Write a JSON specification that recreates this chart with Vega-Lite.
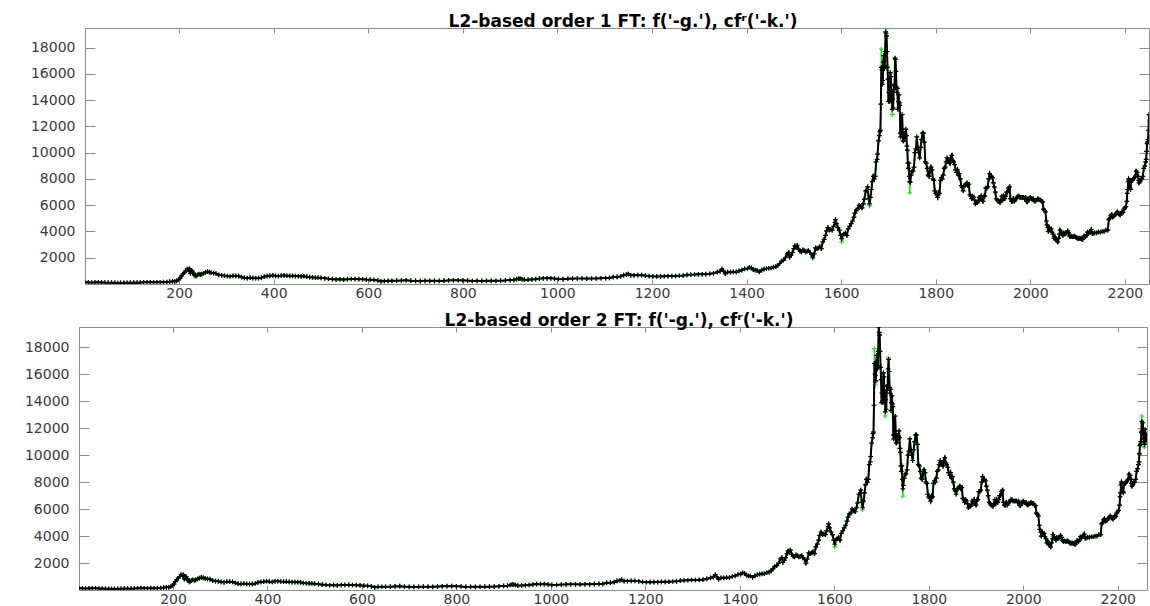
{
  "$schema": "https://vega.github.io/schema/vega-lite/v6.json",
  "background": "white",
  "padding": {"left": 7, "top": 13, "right": 0, "bottom": 0},
  "spacing": 12,
  "config": {
    "view": {"stroke": null},
    "axis": {
      "grid": false,
      "domainColor": "#8c8c8c",
      "tickColor": "#8c8c8c",
      "domainWidth": 1,
      "tickWidth": 1,
      "labelColor": "#3a3a3a",
      "labelFont": "DejaVu Sans",
      "labelFontSize": 14,
      "title": null
    },
    "title": {
      "font": "DejaVu Sans",
      "fontSize": 17,
      "fontWeight": "bold",
      "color": "#000000",
      "anchor": "middle",
      "baseline": "alphabetic",
      "frame": "group",
      "offset": -6,
      "dx": 6
    }
  },
  "datasets": {
    "prices": [
      {"x":1,"f":135,"a":135,"b":135},{"x":8,"f":118,"a":118,"b":118},{"x":15,"f":112,"a":112,"b":112},{"x":22,"f":120,"a":120,"b":120},
      {"x":29,"f":128,"a":128,"b":128},{"x":36,"f":122,"a":122,"b":122},{"x":43,"f":108,"a":108,"b":108},{"x":50,"f":104,"a":104,"b":104},
      {"x":57,"f":100,"a":100,"b":100},{"x":64,"f":88,"a":88,"b":88},{"x":70,"f":72,"a":72,"b":72},{"x":76,"f":80,"a":80,"b":80},
      {"x":83,"f":92,"a":92,"b":92},{"x":90,"f":96,"a":96,"b":96},{"x":97,"f":102,"a":102,"b":102},{"x":104,"f":106,"a":106,"b":106},
      {"x":111,"f":100,"a":100,"b":100},{"x":118,"f":112,"a":112,"b":112},{"x":125,"f":124,"a":124,"b":124},{"x":132,"f":132,"a":132,"b":132},
      {"x":139,"f":126,"a":126,"b":126},{"x":146,"f":124,"a":124,"b":124},{"x":153,"f":132,"a":132,"b":132},{"x":160,"f":128,"a":128,"b":128},
      {"x":167,"f":136,"a":136,"b":136},{"x":174,"f":150,"a":150,"b":150},{"x":180,"f":175,"a":175,"b":175},{"x":186,"f":195,"a":195,"b":195},
      {"x":191,"f":200,"a":200,"b":200},{"x":195,"f":240,"a":240,"b":240},{"x":199,"f":340,"a":340,"b":340},{"x":202,"f":440,"a":440,"b":440},
      {"x":205,"f":620,"a":620,"b":620},{"x":208,"f":760,"a":760,"b":760},{"x":211,"f":860,"a":860,"b":860},{"x":214,"f":1000,"a":1000,"b":1000},
      {"x":217,"f":1130,"a":1130,"b":1130},{"x":220,"f":1090,"a":1090,"b":1090},{"x":222,"f":1150,"a":1150,"b":1150},{"x":224,"f":830,"a":830,"b":830},
      {"x":226,"f":1000,"a":1000,"b":1000},{"x":228,"f":980,"a":980,"b":980},{"x":230,"f":820,"a":820,"b":820},{"x":232,"f":700,"a":700,"b":700},
      {"x":234,"f":560,"a":700,"b":720},{"x":236,"f":620,"a":620,"b":620},{"x":239,"f":690,"a":690,"b":690},{"x":242,"f":760,"a":760,"b":760},
      {"x":245,"f":720,"a":720,"b":720},{"x":248,"f":750,"a":750,"b":750},{"x":252,"f":820,"a":820,"b":820},{"x":256,"f":880,"a":880,"b":880},
      {"x":260,"f":940,"a":940,"b":940},{"x":264,"f":900,"a":900,"b":900},{"x":268,"f":860,"a":860,"b":860},{"x":273,"f":830,"a":830,"b":830},
      {"x":278,"f":800,"a":800,"b":800},{"x":284,"f":700,"a":700,"b":700},{"x":290,"f":660,"a":660,"b":660},{"x":296,"f":640,"a":640,"b":640},
      {"x":302,"f":600,"a":600,"b":600},{"x":308,"f":570,"a":570,"b":570},{"x":314,"f":620,"a":620,"b":620},{"x":320,"f":620,"a":620,"b":620},
      {"x":326,"f":600,"a":600,"b":600},{"x":332,"f":520,"a":520,"b":520},{"x":338,"f":470,"a":470,"b":470},{"x":344,"f":450,"a":450,"b":450},
      {"x":350,"f":480,"a":480,"b":480},{"x":356,"f":450,"a":450,"b":450},{"x":362,"f":440,"a":440,"b":440},{"x":368,"f":450,"a":450,"b":450},
      {"x":374,"f":480,"a":480,"b":480},{"x":380,"f":560,"a":560,"b":560},{"x":386,"f":600,"a":600,"b":600},{"x":392,"f":620,"a":620,"b":620},
      {"x":398,"f":650,"a":650,"b":650},{"x":404,"f":620,"a":620,"b":620},{"x":410,"f":600,"a":600,"b":600},{"x":416,"f":640,"a":640,"b":640},
      {"x":422,"f":650,"a":650,"b":650},{"x":428,"f":630,"a":630,"b":630},{"x":434,"f":620,"a":620,"b":620},{"x":440,"f":620,"a":620,"b":620},
      {"x":446,"f":600,"a":600,"b":600},{"x":452,"f":590,"a":590,"b":590},{"x":458,"f":580,"a":580,"b":580},{"x":464,"f":590,"a":590,"b":590},
      {"x":470,"f":560,"a":560,"b":560},{"x":476,"f":520,"a":520,"b":520},{"x":482,"f":500,"a":500,"b":500},{"x":488,"f":490,"a":490,"b":490},
      {"x":494,"f":480,"a":480,"b":480},{"x":500,"f":470,"a":470,"b":470},{"x":508,"f":430,"a":430,"b":430},{"x":516,"f":400,"a":400,"b":400},
      {"x":524,"f":370,"a":370,"b":370},{"x":532,"f":350,"a":350,"b":350},{"x":540,"f":360,"a":360,"b":360},{"x":548,"f":340,"a":340,"b":340},
      {"x":556,"f":370,"a":370,"b":370},{"x":564,"f":380,"a":380,"b":380},{"x":572,"f":380,"a":380,"b":380},{"x":580,"f":370,"a":370,"b":370},
      {"x":588,"f":360,"a":360,"b":360},{"x":596,"f":340,"a":340,"b":340},{"x":604,"f":330,"a":330,"b":330},{"x":612,"f":310,"a":310,"b":310},
      {"x":620,"f":270,"a":270,"b":270},{"x":627,"f":200,"a":200,"b":200},{"x":634,"f":230,"a":230,"b":230},{"x":642,"f":240,"a":240,"b":240},
      {"x":650,"f":240,"a":240,"b":240},{"x":660,"f":250,"a":250,"b":250},{"x":670,"f":265,"a":265,"b":265},{"x":680,"f":285,"a":285,"b":285},
      {"x":690,"f":250,"a":250,"b":250},{"x":700,"f":235,"a":235,"b":235},{"x":710,"f":225,"a":225,"b":225},{"x":720,"f":240,"a":240,"b":240},
      {"x":730,"f":245,"a":245,"b":245},{"x":740,"f":240,"a":240,"b":240},{"x":750,"f":235,"a":235,"b":235},{"x":760,"f":255,"a":255,"b":255},
      {"x":770,"f":270,"a":270,"b":270},{"x":780,"f":285,"a":285,"b":285},{"x":790,"f":285,"a":285,"b":285},{"x":800,"f":275,"a":275,"b":275},
      {"x":810,"f":260,"a":260,"b":260},{"x":820,"f":230,"a":230,"b":230},{"x":830,"f":240,"a":240,"b":240},{"x":840,"f":235,"a":235,"b":235},
      {"x":850,"f":240,"a":240,"b":240},{"x":860,"f":245,"a":245,"b":245},{"x":870,"f":245,"a":245,"b":245},{"x":880,"f":255,"a":255,"b":255},
      {"x":890,"f":270,"a":270,"b":270},{"x":900,"f":300,"a":300,"b":300},{"x":908,"f":320,"a":320,"b":320},{"x":914,"f":370,"a":370,"b":370},
      {"x":918,"f":400,"a":400,"b":400},{"x":921,"f":410,"a":410,"b":410},{"x":925,"f":370,"a":370,"b":370},{"x":930,"f":330,"a":330,"b":330},
      {"x":938,"f":330,"a":330,"b":330},{"x":946,"f":350,"a":350,"b":350},{"x":954,"f":370,"a":370,"b":370},{"x":962,"f":410,"a":410,"b":410},
      {"x":970,"f":430,"a":430,"b":430},{"x":978,"f":430,"a":430,"b":430},{"x":986,"f":430,"a":430,"b":430},{"x":994,"f":410,"a":410,"b":410},
      {"x":1002,"f":380,"a":380,"b":380},{"x":1012,"f":370,"a":370,"b":370},{"x":1022,"f":400,"a":400,"b":400},{"x":1032,"f":415,"a":415,"b":415},
      {"x":1042,"f":420,"a":420,"b":420},{"x":1052,"f":420,"a":420,"b":420},{"x":1062,"f":415,"a":415,"b":415},{"x":1072,"f":420,"a":420,"b":420},
      {"x":1082,"f":420,"a":420,"b":420},{"x":1092,"f":440,"a":440,"b":440},{"x":1102,"f":450,"a":450,"b":450},{"x":1110,"f":460,"a":460,"b":460},
      {"x":1118,"f":530,"a":530,"b":530},{"x":1126,"f":540,"a":540,"b":540},{"x":1134,"f":580,"a":580,"b":580},{"x":1140,"f":670,"a":670,"b":670},
      {"x":1146,"f":720,"a":720,"b":720},{"x":1150,"f":750,"a":750,"b":750},{"x":1155,"f":660,"a":660,"b":660},{"x":1162,"f":660,"a":660,"b":660},
      {"x":1170,"f":680,"a":680,"b":680},{"x":1178,"f":670,"a":670,"b":670},{"x":1186,"f":640,"a":640,"b":640},{"x":1194,"f":600,"a":600,"b":600},
      {"x":1202,"f":575,"a":575,"b":575},{"x":1210,"f":580,"a":580,"b":580},{"x":1218,"f":580,"a":580,"b":580},{"x":1226,"f":590,"a":590,"b":590},
      {"x":1234,"f":605,"a":605,"b":605},{"x":1242,"f":605,"a":605,"b":605},{"x":1250,"f":610,"a":610,"b":610},{"x":1258,"f":630,"a":630,"b":630},
      {"x":1266,"f":640,"a":640,"b":640},{"x":1274,"f":700,"a":700,"b":700},{"x":1282,"f":705,"a":705,"b":705},{"x":1290,"f":725,"a":725,"b":725},
      {"x":1298,"f":740,"a":740,"b":740},{"x":1306,"f":740,"a":740,"b":740},{"x":1314,"f":750,"a":750,"b":750},{"x":1322,"f":775,"a":775,"b":775},
      {"x":1330,"f":820,"a":820,"b":820},{"x":1338,"f":900,"a":900,"b":900},{"x":1344,"f":960,"a":960,"b":960},{"x":1348,"f":1130,"a":1130,"b":1130},
      {"x":1351,"f":1000,"a":1000,"b":1000},{"x":1355,"f":780,"a":780,"b":780},{"x":1360,"f":900,"a":900,"b":900},{"x":1366,"f":900,"a":900,"b":900},
      {"x":1372,"f":920,"a":920,"b":920},{"x":1378,"f":920,"a":920,"b":920},{"x":1384,"f":1000,"a":1000,"b":1000},{"x":1390,"f":1050,"a":1050,"b":1050},
      {"x":1396,"f":1150,"a":1150,"b":1150},{"x":1402,"f":1180,"a":1180,"b":1180},{"x":1406,"f":1270,"a":1270,"b":1270},{"x":1410,"f":1230,"a":1230,"b":1230},
      {"x":1414,"f":1100,"a":1100,"b":1100},{"x":1418,"f":1050,"a":1050,"b":1050},{"x":1422,"f":1040,"a":1040,"b":1040},{"x":1427,"f":930,"a":930,"b":930},
      {"x":1432,"f":1050,"a":1050,"b":1050},{"x":1437,"f":1130,"a":1130,"b":1130},{"x":1442,"f":1180,"a":1180,"b":1180},{"x":1447,"f":1200,"a":1200,"b":1200},
      {"x":1452,"f":1220,"a":1220,"b":1220},{"x":1457,"f":1280,"a":1280,"b":1280},{"x":1462,"f":1330,"a":1330,"b":1330},{"x":1466,"f":1420,"a":1420,"b":1420},
      {"x":1470,"f":1560,"a":1560,"b":1560},{"x":1474,"f":1750,"a":1750,"b":1750},{"x":1478,"f":1800,"a":1800,"b":1800},{"x":1482,"f":2000,"a":2000,"b":2000},
      {"x":1486,"f":2300,"a":2300,"b":2300},{"x":1489,"f":2400,"a":2400,"b":2400},{"x":1491,"f":2050,"a":2050,"b":2050},{"x":1494,"f":2200,"a":2200,"b":2200},
      {"x":1497,"f":2400,"a":2400,"b":2400},{"x":1500,"f":2700,"a":2700,"b":2700},{"x":1502,"f":2900,"a":2900,"b":2900},{"x":1505,"f":2800,"a":2800,"b":2800},
      {"x":1507,"f":2950,"a":2950,"b":2950},{"x":1510,"f":2650,"a":2650,"b":2650},{"x":1513,"f":2500,"a":2500,"b":2500},{"x":1516,"f":2450,"a":2450,"b":2450},
      {"x":1519,"f":2600,"a":2600,"b":2600},{"x":1522,"f":2550,"a":2550,"b":2550},{"x":1525,"f":2450,"a":2450,"b":2450},{"x":1528,"f":2500,"a":2500,"b":2500},
      {"x":1531,"f":2550,"a":2550,"b":2550},{"x":1534,"f":2400,"a":2400,"b":2400},{"x":1537,"f":2250,"a":2250,"b":2250},{"x":1540,"f":1950,"a":2050,"b":2000},
      {"x":1543,"f":2300,"a":2300,"b":2300},{"x":1546,"f":2750,"a":2750,"b":2750},{"x":1549,"f":2700,"a":2700,"b":2700},{"x":1552,"f":2750,"a":2750,"b":2750},
      {"x":1555,"f":2850,"a":2850,"b":2850},{"x":1558,"f":2700,"a":2700,"b":2700},{"x":1561,"f":3200,"a":3200,"b":3200},{"x":1564,"f":3400,"a":3400,"b":3400},
      {"x":1567,"f":3700,"a":3700,"b":3700},{"x":1569,"f":4050,"a":4050,"b":4050},{"x":1572,"f":4300,"a":4300,"b":4300},{"x":1575,"f":4100,"a":4100,"b":4100},
      {"x":1578,"f":4150,"a":4150,"b":4150},{"x":1581,"f":4100,"a":4100,"b":4100},{"x":1584,"f":4400,"a":4400,"b":4400},{"x":1587,"f":4700,"a":4700,"b":4700},
      {"x":1588,"f":4900,"a":4900,"b":4900},{"x":1590,"f":4600,"a":4600,"b":4600},{"x":1593,"f":4300,"a":4300,"b":4300},{"x":1596,"f":4100,"a":4100,"b":4100},
      {"x":1599,"f":3700,"a":3700,"b":3700},{"x":1601,"f":3200,"a":3450,"b":3400},{"x":1603,"f":3700,"a":3700,"b":3700},{"x":1606,"f":3800,"a":3800,"b":3800},
      {"x":1609,"f":3900,"a":3900,"b":3900},{"x":1612,"f":3700,"a":3700,"b":3700},{"x":1615,"f":4200,"a":4200,"b":4200},{"x":1618,"f":4400,"a":4400,"b":4400},
      {"x":1621,"f":4600,"a":4600,"b":4600},{"x":1624,"f":4800,"a":4800,"b":4800},{"x":1627,"f":5100,"a":5100,"b":5100},{"x":1629,"f":5400,"a":5400,"b":5400},
      {"x":1632,"f":5650,"a":5650,"b":5650},{"x":1635,"f":5700,"a":5700,"b":5700},{"x":1638,"f":6000,"a":6000,"b":6000},{"x":1641,"f":5900,"a":5900,"b":5900},
      {"x":1644,"f":5800,"a":5800,"b":5800},{"x":1647,"f":6100,"a":6100,"b":6100},{"x":1649,"f":6450,"a":6450,"b":6450},{"x":1652,"f":7100,"a":7100,"b":7100},
      {"x":1655,"f":7200,"a":7200,"b":7200},{"x":1656,"f":7400,"a":7400,"b":7400},{"x":1658,"f":6500,"a":6500,"b":6500},{"x":1660,"f":5950,"a":6100,"b":6100},
      {"x":1662,"f":6600,"a":6600,"b":6600},{"x":1664,"f":7200,"a":7200,"b":7200},{"x":1666,"f":7800,"a":7800,"b":7800},{"x":1668,"f":8200,"a":8200,"b":8200},
      {"x":1670,"f":8000,"a":8000,"b":8000},{"x":1672,"f":8200,"a":8200,"b":8200},{"x":1674,"f":9300,"a":9300,"b":9300},{"x":1676,"f":9500,"a":9500,"b":9500},
      {"x":1677,"f":9900,"a":9900,"b":9900},{"x":1679,"f":10900,"a":10900,"b":10900},{"x":1681,"f":11300,"a":11300,"b":11300},{"x":1682,"f":11600,"a":11600,"b":11600},
      {"x":1683,"f":11700,"a":11700,"b":11700},{"x":1684,"f":13700,"a":13700,"b":13700},{"x":1685,"f":17900,"a":16500,"b":16800},{"x":1686,"f":16600,"a":16300,"b":16000},
      {"x":1687,"f":15200,"a":15200,"b":15900},{"x":1688,"f":15500,"a":15500,"b":15500},{"x":1689,"f":16900,"a":16900,"b":16900},{"x":1690,"f":17400,"a":17400,"b":17400},
      {"x":1691,"f":16400,"a":16400,"b":16400},{"x":1692,"f":16600,"a":16600,"b":16600},{"x":1693,"f":17700,"a":17700,"b":17700},{"x":1694,"f":19500,"a":19200,"b":19500},
      {"x":1695,"f":19100,"a":19100,"b":19100},{"x":1696,"f":18900,"a":18900,"b":18900},{"x":1697,"f":17700,"a":17700,"b":17700},{"x":1698,"f":16500,"a":16500,"b":16500},
      {"x":1699,"f":15600,"a":15600,"b":15600},{"x":1700,"f":13900,"a":13900,"b":13900},{"x":1701,"f":14600,"a":14600,"b":14600},{"x":1702,"f":14000,"a":14000,"b":14000},
      {"x":1703,"f":13900,"a":13900,"b":13900},{"x":1704,"f":16100,"a":16100,"b":16100},{"x":1705,"f":15800,"a":15800,"b":15800},{"x":1706,"f":14600,"a":14600,"b":14600},
      {"x":1707,"f":14700,"a":14700,"b":14700},{"x":1708,"f":12900,"a":13300,"b":13200},{"x":1709,"f":14100,"a":14100,"b":14100},{"x":1710,"f":13400,"a":13400,"b":13400},
      {"x":1711,"f":14800,"a":14800,"b":14800},{"x":1712,"f":15100,"a":15100,"b":15100},{"x":1713,"f":15200,"a":15200,"b":15200},{"x":1714,"f":17200,"a":17200,"b":16400},
      {"x":1715,"f":17100,"a":17100,"b":17100},{"x":1716,"f":16200,"a":16200,"b":16200},{"x":1717,"f":15000,"a":15000,"b":15000},{"x":1718,"f":14600,"a":14600,"b":14600},
      {"x":1719,"f":14900,"a":14900,"b":14900},{"x":1720,"f":13300,"a":13300,"b":13300},{"x":1721,"f":13900,"a":13900,"b":13900},{"x":1722,"f":14400,"a":14400,"b":14400},
      {"x":1723,"f":13800,"a":13800,"b":13800},{"x":1724,"f":13600,"a":13600,"b":13600},{"x":1725,"f":11500,"a":11500,"b":11500},{"x":1726,"f":11200,"a":11200,"b":11200},
      {"x":1727,"f":11500,"a":11500,"b":11500},{"x":1728,"f":11800,"a":11800,"b":11800},{"x":1729,"f":12900,"a":12900,"b":12900},{"x":1730,"f":11600,"a":11600,"b":11600},
      {"x":1731,"f":10900,"a":10900,"b":10900},{"x":1732,"f":10900,"a":10900,"b":10900},{"x":1733,"f":11300,"a":11300,"b":11300},{"x":1734,"f":11100,"a":11100,"b":11100},
      {"x":1735,"f":11400,"a":11400,"b":11400},{"x":1736,"f":11300,"a":11300,"b":11300},{"x":1737,"f":11800,"a":11800,"b":11800},{"x":1738,"f":11300,"a":11300,"b":11300},
      {"x":1739,"f":10500,"a":10500,"b":10500},{"x":1740,"f":10200,"a":10200,"b":10200},{"x":1741,"f":9200,"a":9200,"b":9200},{"x":1742,"f":8800,"a":8800,"b":8800},
      {"x":1743,"f":9200,"a":9200,"b":9200},{"x":1744,"f":8200,"a":8200,"b":8200},{"x":1745,"f":6950,"a":7800,"b":7500},{"x":1746,"f":7750,"a":7750,"b":7750},
      {"x":1748,"f":8300,"a":8300,"b":8300},{"x":1750,"f":8600,"a":8600,"b":8600},{"x":1752,"f":8600,"a":8600,"b":8600},{"x":1754,"f":8900,"a":8900,"b":8900},
      {"x":1756,"f":10000,"a":10000,"b":10000},{"x":1758,"f":10300,"a":10300,"b":10300},{"x":1760,"f":11200,"a":11200,"b":11200},{"x":1762,"f":10400,"a":10400,"b":10400},
      {"x":1764,"f":10000,"a":10000,"b":10000},{"x":1766,"f":9600,"a":9600,"b":9600},{"x":1768,"f":10400,"a":10400,"b":10400},{"x":1770,"f":11000,"a":11000,"b":11000},
      {"x":1772,"f":11500,"a":11500,"b":11500},{"x":1774,"f":11500,"a":11500,"b":11500},{"x":1776,"f":10800,"a":10800,"b":10800},{"x":1778,"f":9300,"a":9300,"b":9300},
      {"x":1780,"f":9200,"a":9200,"b":9200},{"x":1782,"f":8800,"a":8800,"b":8800},{"x":1784,"f":8300,"a":8300,"b":8300},{"x":1786,"f":8200,"a":8200,"b":8200},
      {"x":1788,"f":8600,"a":8600,"b":8600},{"x":1790,"f":8900,"a":8900,"b":8900},{"x":1792,"f":8700,"a":8700,"b":8700},{"x":1794,"f":8000,"a":8000,"b":8000},
      {"x":1796,"f":7900,"a":7900,"b":7900},{"x":1798,"f":7100,"a":7100,"b":7100},{"x":1800,"f":6900,"a":6900,"b":6900},{"x":1802,"f":6800,"a":6800,"b":6800},
      {"x":1804,"f":6600,"a":6600,"b":6600},{"x":1806,"f":7000,"a":7000,"b":7000},{"x":1808,"f":6900,"a":6900,"b":6900},{"x":1810,"f":7900,"a":7900,"b":7900},
      {"x":1812,"f":8100,"a":8100,"b":8100},{"x":1814,"f":8000,"a":8000,"b":8000},{"x":1816,"f":8300,"a":8300,"b":8300},{"x":1818,"f":8800,"a":8800,"b":8800},
      {"x":1820,"f":8900,"a":8900,"b":8900},{"x":1822,"f":9300,"a":9300,"b":9300},{"x":1824,"f":9600,"a":9600,"b":9600},{"x":1826,"f":9300,"a":9300,"b":9300},
      {"x":1828,"f":9400,"a":9400,"b":9400},{"x":1830,"f":9200,"a":9200,"b":9200},{"x":1832,"f":9600,"a":9600,"b":9600},{"x":1834,"f":9800,"a":9800,"b":9800},
      {"x":1836,"f":9400,"a":9400,"b":9400},{"x":1838,"f":9300,"a":9300,"b":9300},{"x":1840,"f":9100,"a":9100,"b":9100},{"x":1842,"f":8700,"a":8700,"b":8700},
      {"x":1844,"f":8500,"a":8500,"b":8500},{"x":1846,"f":8700,"a":8700,"b":8700},{"x":1848,"f":8300,"a":8300,"b":8300},{"x":1850,"f":8400,"a":8400,"b":8400},
      {"x":1852,"f":8000,"a":8000,"b":8000},{"x":1854,"f":7500,"a":7500,"b":7500},{"x":1856,"f":7350,"a":7350,"b":7350},{"x":1858,"f":7100,"a":7100,"b":7100},
      {"x":1860,"f":7500,"a":7500,"b":7500},{"x":1862,"f":7500,"a":7500,"b":7500},{"x":1864,"f":7600,"a":7600,"b":7600},{"x":1866,"f":7700,"a":7700,"b":7700},
      {"x":1868,"f":7500,"a":7500,"b":7500},{"x":1870,"f":7600,"a":7600,"b":7600},{"x":1872,"f":6800,"a":6800,"b":6800},{"x":1874,"f":6700,"a":6700,"b":6700},
      {"x":1876,"f":6500,"a":6500,"b":6500},{"x":1878,"f":6700,"a":6700,"b":6700},{"x":1880,"f":6600,"a":6600,"b":6600},{"x":1882,"f":6400,"a":6400,"b":6400},
      {"x":1884,"f":6100,"a":6100,"b":6100},{"x":1886,"f":6200,"a":6200,"b":6200},{"x":1888,"f":6200,"a":6200,"b":6200},{"x":1890,"f":6300,"a":6300,"b":6300},
      {"x":1892,"f":6600,"a":6600,"b":6600},{"x":1894,"f":6500,"a":6500,"b":6500},{"x":1896,"f":6700,"a":6700,"b":6700},{"x":1898,"f":6400,"a":6400,"b":6400},
      {"x":1900,"f":6300,"a":6300,"b":6300},{"x":1902,"f":6700,"a":6700,"b":6700},{"x":1904,"f":6700,"a":6700,"b":6700},{"x":1906,"f":7300,"a":7300,"b":7300},
      {"x":1908,"f":7300,"a":7300,"b":7300},{"x":1910,"f":7400,"a":7400,"b":7400},{"x":1912,"f":8000,"a":8000,"b":8000},{"x":1914,"f":8400,"a":8400,"b":8400},
      {"x":1916,"f":8200,"a":8200,"b":8200},{"x":1918,"f":8200,"a":8200,"b":8200},{"x":1920,"f":8100,"a":8100,"b":8100},{"x":1922,"f":7700,"a":7700,"b":7700},
      {"x":1924,"f":7400,"a":7400,"b":7400},{"x":1926,"f":7000,"a":7000,"b":7000},{"x":1928,"f":6500,"a":6500,"b":6500},{"x":1930,"f":6400,"a":6400,"b":6400},
      {"x":1932,"f":6300,"a":6300,"b":6300},{"x":1934,"f":6300,"a":6300,"b":6300},{"x":1936,"f":6200,"a":6200,"b":6200},{"x":1938,"f":6400,"a":6400,"b":6400},
      {"x":1940,"f":6700,"a":6700,"b":6700},{"x":1942,"f":6400,"a":6400,"b":6400},{"x":1944,"f":6700,"a":6700,"b":6700},{"x":1946,"f":6500,"a":6500,"b":6500},
      {"x":1948,"f":6700,"a":6700,"b":6700},{"x":1950,"f":7000,"a":7000,"b":7000},{"x":1952,"f":7000,"a":7000,"b":7000},{"x":1954,"f":7300,"a":7300,"b":7300},
      {"x":1956,"f":7400,"a":7400,"b":7400},{"x":1958,"f":6500,"a":6500,"b":6500},{"x":1960,"f":6300,"a":6300,"b":6300},{"x":1962,"f":6300,"a":6300,"b":6300},
      {"x":1964,"f":6500,"a":6500,"b":6500},{"x":1966,"f":6300,"a":6300,"b":6300},{"x":1968,"f":6400,"a":6400,"b":6400},{"x":1970,"f":6500,"a":6500,"b":6500},
      {"x":1972,"f":6600,"a":6600,"b":6600},{"x":1974,"f":6700,"a":6700,"b":6700},{"x":1976,"f":6700,"a":6700,"b":6700},{"x":1978,"f":6600,"a":6600,"b":6600},
      {"x":1980,"f":6600,"a":6600,"b":6600},{"x":1982,"f":6600,"a":6600,"b":6600},{"x":1984,"f":6600,"a":6600,"b":6600},{"x":1986,"f":6600,"a":6600,"b":6600},
      {"x":1988,"f":6500,"a":6500,"b":6500},{"x":1990,"f":6600,"a":6600,"b":6600},{"x":1992,"f":6300,"a":6300,"b":6300},{"x":1994,"f":6250,"a":6250,"b":6250},
      {"x":1996,"f":6400,"a":6400,"b":6400},{"x":1998,"f":6500,"a":6500,"b":6500},{"x":2000,"f":6600,"a":6600,"b":6600},{"x":2002,"f":6500,"a":6500,"b":6500},
      {"x":2004,"f":6450,"a":6450,"b":6450},{"x":2006,"f":6500,"a":6500,"b":6500},{"x":2008,"f":6350,"a":6350,"b":6350},{"x":2010,"f":6300,"a":6300,"b":6300},
      {"x":2012,"f":6400,"a":6400,"b":6400},{"x":2014,"f":6400,"a":6400,"b":6400},{"x":2016,"f":6500,"a":6500,"b":6500},{"x":2018,"f":6450,"a":6450,"b":6450},
      {"x":2020,"f":6400,"a":6400,"b":6400},{"x":2022,"f":6400,"a":6400,"b":6400},{"x":2024,"f":6300,"a":6300,"b":6300},{"x":2026,"f":6250,"a":6250,"b":6250},
      {"x":2028,"f":5700,"a":5700,"b":5700},{"x":2030,"f":5600,"a":5600,"b":5600},{"x":2032,"f":5500,"a":5500,"b":5500},{"x":2034,"f":4800,"a":4800,"b":4800},
      {"x":2035,"f":4500,"a":4500,"b":4500},{"x":2037,"f":4300,"a":4300,"b":4300},{"x":2038,"f":4000,"a":4000,"b":4000},{"x":2040,"f":4300,"a":4300,"b":4300},
      {"x":2042,"f":4100,"a":4100,"b":4100},{"x":2044,"f":4200,"a":4200,"b":4200},{"x":2046,"f":3950,"a":3950,"b":3950},{"x":2048,"f":3800,"a":3800,"b":3800},
      {"x":2050,"f":3500,"a":3500,"b":3500},{"x":2052,"f":3600,"a":3600,"b":3600},{"x":2054,"f":3400,"a":3400,"b":3400},{"x":2056,"f":3300,"a":3300,"b":3300},
      {"x":2058,"f":3200,"a":3200,"b":3200},{"x":2060,"f":3500,"a":3500,"b":3500},{"x":2062,"f":3800,"a":3800,"b":3800},{"x":2063,"f":4100,"a":4100,"b":4100},
      {"x":2065,"f":3950,"a":3950,"b":3950},{"x":2067,"f":3800,"a":3800,"b":3800},{"x":2069,"f":3700,"a":3700,"b":3700},{"x":2071,"f":3900,"a":3900,"b":3900},
      {"x":2073,"f":3800,"a":3800,"b":3800},{"x":2075,"f":3850,"a":3850,"b":3850},{"x":2077,"f":3900,"a":3900,"b":3900},{"x":2079,"f":4050,"a":4050,"b":4050},
      {"x":2081,"f":3900,"a":3900,"b":3900},{"x":2083,"f":3650,"a":3650,"b":3650},{"x":2085,"f":3600,"a":3600,"b":3600},{"x":2087,"f":3650,"a":3650,"b":3650},
      {"x":2089,"f":3600,"a":3600,"b":3600},{"x":2091,"f":3600,"a":3600,"b":3600},{"x":2093,"f":3650,"a":3650,"b":3650},{"x":2095,"f":3600,"a":3600,"b":3600},
      {"x":2097,"f":3550,"a":3550,"b":3550},{"x":2099,"f":3500,"a":3500,"b":3500},{"x":2101,"f":3450,"a":3450,"b":3450},{"x":2103,"f":3500,"a":3500,"b":3500},
      {"x":2105,"f":3450,"a":3450,"b":3450},{"x":2107,"f":3450,"a":3450,"b":3450},{"x":2109,"f":3400,"a":3400,"b":3400},{"x":2111,"f":3400,"a":3400,"b":3400},
      {"x":2113,"f":3650,"a":3650,"b":3650},{"x":2115,"f":3650,"a":3650,"b":3650},{"x":2117,"f":3600,"a":3600,"b":3600},{"x":2119,"f":3700,"a":3700,"b":3700},
      {"x":2121,"f":3950,"a":3950,"b":3950},{"x":2123,"f":3900,"a":3900,"b":3900},{"x":2125,"f":3950,"a":3950,"b":3950},{"x":2127,"f":3950,"a":3950,"b":3950},
      {"x":2129,"f":4150,"a":4150,"b":4150},{"x":2131,"f":3850,"a":3850,"b":3850},{"x":2133,"f":3850,"a":3850,"b":3850},{"x":2136,"f":3900,"a":3900,"b":3900},
      {"x":2140,"f":3900,"a":3900,"b":3900},{"x":2144,"f":3950,"a":3950,"b":3950},{"x":2148,"f":3950,"a":3950,"b":3950},{"x":2152,"f":4000,"a":4000,"b":4000},
      {"x":2156,"f":4000,"a":4000,"b":4000},{"x":2160,"f":4100,"a":4100,"b":4100},{"x":2164,"f":4100,"a":4100,"b":4100},{"x":2166,"f":4900,"a":4900,"b":4900},
      {"x":2168,"f":5000,"a":5000,"b":5000},{"x":2170,"f":5200,"a":5200,"b":5200},{"x":2172,"f":5300,"a":5300,"b":5300},{"x":2174,"f":5100,"a":5100,"b":5100},
      {"x":2176,"f":5150,"a":5150,"b":5150},{"x":2178,"f":5200,"a":5200,"b":5200},{"x":2180,"f":5300,"a":5300,"b":5300},{"x":2182,"f":5400,"a":5400,"b":5400},
      {"x":2184,"f":5500,"a":5500,"b":5500},{"x":2186,"f":5400,"a":5400,"b":5400},{"x":2188,"f":5300,"a":5300,"b":5300},{"x":2190,"f":5250,"a":5250,"b":5250},
      {"x":2192,"f":5400,"a":5400,"b":5400},{"x":2194,"f":5500,"a":5500,"b":5500},{"x":2196,"f":5450,"a":5450,"b":5450},{"x":2198,"f":5700,"a":5700,"b":5700},
      {"x":2200,"f":5800,"a":5800,"b":5800},{"x":2202,"f":5900,"a":5900,"b":5900},{"x":2204,"f":6300,"a":6300,"b":6300},{"x":2205,"f":6900,"a":6900,"b":6900},
      {"x":2206,"f":7200,"a":7200,"b":7200},{"x":2207,"f":7800,"a":7800,"b":7800},{"x":2208,"f":8000,"a":8000,"b":8000},{"x":2209,"f":7900,"a":7900,"b":7900},
      {"x":2210,"f":7900,"a":7900,"b":7900},{"x":2211,"f":7300,"a":7300,"b":7300},{"x":2212,"f":7200,"a":7200,"b":7200},{"x":2213,"f":7800,"a":7800,"b":7800},
      {"x":2214,"f":7900,"a":7900,"b":7900},{"x":2216,"f":7900,"a":7900,"b":7900},{"x":2218,"f":8000,"a":8000,"b":8000},{"x":2220,"f":8100,"a":8100,"b":8100},
      {"x":2222,"f":8200,"a":8200,"b":8200},{"x":2224,"f":8600,"a":8600,"b":8600},{"x":2226,"f":8500,"a":8500,"b":8500},{"x":2228,"f":8200,"a":8200,"b":8200},
      {"x":2229,"f":7900,"a":7900,"b":7900},{"x":2230,"f":7700,"a":7700,"b":7700},{"x":2232,"f":7800,"a":7800,"b":7800},{"x":2234,"f":8000,"a":8000,"b":8000},
      {"x":2236,"f":8000,"a":8000,"b":8000},{"x":2238,"f":8200,"a":8200,"b":8200},{"x":2240,"f":8800,"a":8800,"b":8800},{"x":2242,"f":9000,"a":9000,"b":9000},
      {"x":2244,"f":9300,"a":9300,"b":9300},{"x":2245,"f":9500,"a":9500,"b":9500},{"x":2246,"f":10100,"a":10100,"b":10100},{"x":2247,"f":10700,"a":10700,"b":10700},
      {"x":2248,"f":10800,"a":10800,"b":10800},{"x":2249,"f":11000,"a":11000,"b":11000},{"x":2250,"f":11700,"a":11700,"b":11700},{"x":2251,"f":12900,"a":12900,"b":12500},
      {"x":2252,"f":11100,"a":11100,"b":11600},{"x":2253,"f":12400,"a":12400,"b":12400},{"x":2254,"f":11800,"a":11800,"b":11800},{"x":2255,"f":10800,"a":10800,"b":11200},
      {"x":2256,"f":10600,"a":10600,"b":11000},{"x":2257,"f":10800,"a":10800,"b":10800},{"x":2258,"f":11900,"a":11900,"b":11900},{"x":2259,"f":11000,"a":11000,"b":11000},
      {"x":2260,"f":11200,"a":11200,"b":11200},{"x":2261,"f":11500,"a":11500,"b":11500},{"x":2262,"f":11400,"a":11400,"b":11400}
    ],
    "none": []
  },
  "vconcat": [
    {
      "spacing": 0,
      "hconcat": [
        {
          "width": 7,
          "height": 1,
          "data": {"name": "none"},
          "mark": {"type": "point", "opacity": 0},
          "encoding": {}
        },
        {
          "width": 1064,
          "height": 256,
          "data": {"name": "prices"},
          "title": {"text": "L2-based order 1 FT: f('-g.'), cfʳ('-k.')"},
          "layer": [
            {
              "mark": {"type": "line", "color": "#22dd22", "strokeWidth": 1.5, "clip": true},
              "encoding": {
                "x": {"field": "x", "type": "quantitative", "scale": {"domain": [1, 2251], "nice": false, "zero": false},
                      "axis": {"orient": "bottom", "values": [200,400,600,800,1000,1200,1400,1600,1800,2000,2200], "tickSize": -5, "labelPadding": 7, "format": "d"}},
                "y": {"field": "f", "type": "quantitative", "scale": {"domain": [0, 19500], "nice": false},
                      "axis": {"orient": "left", "values": [2000,4000,6000,8000,10000,12000,14000,16000,18000], "tickSize": -10, "labelPadding": 20, "format": "d", "minExtent": 71, "maxExtent": 71}}
              }
            },
            {
              "mark": {"type": "point", "shape": "M-1,0L1,0M0,-1L0,1", "size": 22, "filled": false, "color": "#22dd22", "strokeWidth": 1.2, "opacity": 1, "clip": true},
              "encoding": {
                "x": {"field": "x", "type": "quantitative", "axis": null},
                "y": {"field": "f", "type": "quantitative", "axis": null}
              }
            },
            {
              "mark": {"type": "line", "color": "#000000", "strokeWidth": 2, "clip": true},
              "encoding": {
                "x": {"field": "x", "type": "quantitative", "axis": null},
                "y": {"field": "a", "type": "quantitative", "axis": null}
              }
            },
            {
              "mark": {"type": "point", "shape": "M-1,0L1,0M0,-1L0,1", "size": 22, "filled": false, "color": "#000000", "strokeWidth": 1.2, "opacity": 1, "clip": true},
              "encoding": {
                "x": {"field": "x", "type": "quantitative", "axis": null},
                "y": {"field": "a", "type": "quantitative", "axis": null}
              }
            },
            {
              "mark": {"type": "point", "opacity": 0},
              "encoding": {
                "x": {"field": "x", "type": "quantitative",
                      "axis": {"orient": "top", "values": [200,400,600,800,1000,1200,1400,1600,1800,2000,2200], "tickSize": -5, "labels": false}},
                "y": {"field": "f", "type": "quantitative",
                      "axis": {"orient": "right", "values": [2000,4000,6000,8000,10000,12000,14000,16000,18000], "tickSize": -10, "labels": false}}
              }
            }
          ],
          "resolve": {"axis": {"x": "independent", "y": "independent"}}
        }
      ]
    },
    {
      "spacing": 0,
      "hconcat": [
        {
          "width": 1,
          "height": 1,
          "data": {"name": "none"},
          "mark": {"type": "point", "opacity": 0},
          "encoding": {}
        },
        {
          "width": 1068,
          "height": 263,
          "data": {"name": "prices"},
          "title": {"text": "L2-based order 2 FT: f('-g.'), cfʳ('-k.')"},
          "layer": [
            {
              "mark": {"type": "line", "color": "#22dd22", "strokeWidth": 1.5, "clip": true},
              "encoding": {
                "x": {"field": "x", "type": "quantitative", "scale": {"domain": [1, 2262], "nice": false, "zero": false},
                      "axis": {"orient": "bottom", "values": [200,400,600,800,1000,1200,1400,1600,1800,2000,2200], "tickSize": -5, "labelPadding": 7, "format": "d"}},
                "y": {"field": "f", "type": "quantitative", "scale": {"domain": [0, 19500], "nice": false},
                      "axis": {"orient": "left", "values": [2000,4000,6000,8000,10000,12000,14000,16000,18000], "tickSize": -10, "labelPadding": 20, "format": "d", "minExtent": 71, "maxExtent": 71}}
              }
            },
            {
              "mark": {"type": "point", "shape": "M-1,0L1,0M0,-1L0,1", "size": 22, "filled": false, "color": "#22dd22", "strokeWidth": 1.2, "opacity": 1, "clip": true},
              "encoding": {
                "x": {"field": "x", "type": "quantitative", "axis": null},
                "y": {"field": "f", "type": "quantitative", "axis": null}
              }
            },
            {
              "mark": {"type": "line", "color": "#000000", "strokeWidth": 2, "clip": true},
              "encoding": {
                "x": {"field": "x", "type": "quantitative", "axis": null},
                "y": {"field": "b", "type": "quantitative", "axis": null}
              }
            },
            {
              "mark": {"type": "point", "shape": "M-1,0L1,0M0,-1L0,1", "size": 22, "filled": false, "color": "#000000", "strokeWidth": 1.2, "opacity": 1, "clip": true},
              "encoding": {
                "x": {"field": "x", "type": "quantitative", "axis": null},
                "y": {"field": "b", "type": "quantitative", "axis": null}
              }
            },
            {
              "mark": {"type": "point", "opacity": 0},
              "encoding": {
                "x": {"field": "x", "type": "quantitative",
                      "axis": {"orient": "top", "values": [200,400,600,800,1000,1200,1400,1600,1800,2000,2200], "tickSize": -5, "labels": false}},
                "y": {"field": "f", "type": "quantitative",
                      "axis": {"orient": "right", "values": [2000,4000,6000,8000,10000,12000,14000,16000,18000], "tickSize": -10, "labels": false}}
              }
            }
          ],
          "resolve": {"axis": {"x": "independent", "y": "independent"}}
        }
      ]
    }
  ]
}
